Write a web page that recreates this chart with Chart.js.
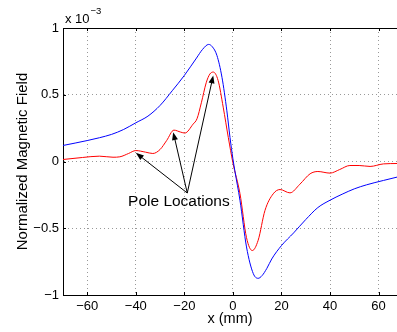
<!DOCTYPE html>
<html>
<head>
<meta charset="utf-8">
<script src="https://cdn.jsdelivr.net/npm/chart.js@4"></script>
<style>
  html, body { margin: 0; padding: 0; background: #fff; }
  canvas { display: block; }
</style>
</head>
<body>
<canvas id="fieldChart" width="397" height="332"></canvas>
<script>
// --- DATA (field in units of 1e-3) ----
const blueX = [-70, -65, -60, -55, -50, -45, -40, -35, -30, -25, -20, -15, -12.5, -10, -8.5, -6.6, -4.5, -2.5, -1.2, 0, 0.8, 2.9, 5.6, 8.4, 10.4, 12, 14, 16, 20, 25, 30, 35, 40, 45, 50, 55, 62, 67.6];
const blueY = [0.12, 0.138, 0.157, 0.178, 0.203, 0.24, 0.29, 0.34, 0.42, 0.53, 0.645, 0.775, 0.84, 0.877, 0.86, 0.795, 0.63, 0.38, 0.18, 0.02, -0.07, -0.29, -0.64, -0.84, -0.875, -0.855, -0.8, -0.73, -0.63, -0.535, -0.435, -0.345, -0.29, -0.245, -0.205, -0.175, -0.142, -0.117];

const redX = [-70, -62, -55, -49.4, -46.6, -43, -40, -36, -33, -30, -27.3, -24.3, -21.5, -19.8, -16.4, -14.8, -13, -11, -9.5, -8.1, -6.1, -4, -1.9, 0, 2.9, 5.6, 8, 10.4, 13.2, 16.6, 19.4, 23.5, 27.6, 31.8, 35, 40, 44, 48.2, 52, 56.5, 62, 67.6];
const redY = [0.015, 0.03, 0.04, 0.032, 0.035, 0.06, 0.082, 0.07, 0.06, 0.09, 0.157, 0.235, 0.22, 0.213, 0.28, 0.32, 0.44, 0.59, 0.655, 0.67, 0.607, 0.407, 0.18, -0.01, -0.24, -0.57, -0.667, -0.59, -0.367, -0.242, -0.21, -0.235, -0.17, -0.092, -0.075, -0.087, -0.06, -0.03, -0.03, -0.037, -0.018, -0.015];

const xTicks = [-60, -40, -20, 0, 20, 40, 60];
const yTicks = [-1, -0.5, 0, 0.5, 1];

// pole-location arrows: common tail, three heads (data coords)
const arrowTail = { x: -18.8, y: -0.236 };
const arrowHeadsX = [-40, -24.6, -8.1];
const arrowHeadsY = [0.065, 0.22, 0.645];
const poleLabel = { text: 'Pole Locations', x: -43.2, y: -0.33 };

const FONT = '"Liberation Sans", Arial, Helvetica, sans-serif';

function fmt(v) {
  return v < 0 ? '\u2212' + Math.abs(v) : String(v);
}

// --- PLUGIN: frame, inward ticks, annotation ----
const decorPlugin = {
  id: 'decor',
  afterDraw(chart) {
    const { ctx, chartArea: a, scales: { x, y } } = chart;
    ctx.save();
    ctx.strokeStyle = '#000';
    ctx.lineWidth = 1;

    // top border
    ctx.beginPath();
    ctx.moveTo(a.left, a.top + 0.5);
    ctx.lineTo(a.right, a.top + 0.5);
    ctx.stroke();

    // inward ticks
    const tl = 3;
    ctx.beginPath();
    xTicks.forEach(v => {
      const px = Math.round(x.getPixelForValue(v)) + 0.5;
      ctx.moveTo(px, a.bottom); ctx.lineTo(px, a.bottom - tl);
      ctx.moveTo(px, a.top); ctx.lineTo(px, a.top + tl);
    });
    yTicks.forEach(v => {
      const py = Math.round(y.getPixelForValue(v)) + 0.5;
      ctx.moveTo(a.left, py); ctx.lineTo(a.left + tl, py);
    });
    ctx.stroke();

    // arrows
    const tx = x.getPixelForValue(arrowTail.x);
    const ty = y.getPixelForValue(arrowTail.y);
    ctx.fillStyle = '#000';
    arrowHeadsX.forEach((hxv, i) => {
      const hx = x.getPixelForValue(hxv);
      const hy = y.getPixelForValue(arrowHeadsY[i]);
      const ang = Math.atan2(hy - ty, hx - tx);
      const len = 8, hw = 3;
      ctx.beginPath();
      ctx.moveTo(tx, ty);
      ctx.lineTo(hx - Math.cos(ang) * len * 0.8, hy - Math.sin(ang) * len * 0.8);
      ctx.stroke();
      ctx.beginPath();
      ctx.moveTo(hx, hy);
      ctx.lineTo(hx - Math.cos(ang) * len - Math.sin(ang) * hw, hy - Math.sin(ang) * len + Math.cos(ang) * hw);
      ctx.lineTo(hx - Math.cos(ang) * len + Math.sin(ang) * hw, hy - Math.sin(ang) * len - Math.cos(ang) * hw);
      ctx.closePath();
      ctx.fill();
    });

    // label
    ctx.font = '15.5px ' + FONT;
    ctx.textBaseline = 'alphabetic';
    ctx.textAlign = 'left';
    ctx.fillText(poleLabel.text, x.getPixelForValue(poleLabel.x), y.getPixelForValue(poleLabel.y));

    // exponent label
    ctx.font = '13px ' + FONT;
    ctx.fillText('x 10', a.left + 2, a.top - 5);
    const w = ctx.measureText('x 10').width;
    ctx.font = '9.5px ' + FONT;
    ctx.fillText('\u22123', a.left + 3 + w, a.top - 14);
    ctx.restore();
  }
};

// --- CHART ----
const ctx = document.getElementById('fieldChart').getContext('2d');
const fieldChart = new Chart(ctx, {
  type: 'scatter',
  data: {
    datasets: [
      {
        label: 'blue',
        data: blueX.map((v, i) => ({ x: v, y: blueY[i] })),
        showLine: true,
        borderColor: '#0000ff',
        borderWidth: 1,
        pointRadius: 0,
        cubicInterpolationMode: 'monotone'
      },
      {
        label: 'red',
        data: redX.map((v, i) => ({ x: v, y: redY[i] })),
        showLine: true,
        borderColor: '#ff0000',
        borderWidth: 1,
        pointRadius: 0,
        cubicInterpolationMode: 'monotone'
      }
    ]
  },
  options: {
    responsive: false,
    animation: false,
    layout: { padding: { left: 0, right: 0, top: 28, bottom: 0 } },
    plugins: {
      legend: { display: false },
      tooltip: { enabled: false }
    },
    scales: {
      x: {
        type: 'linear',
        min: -70,
        max: 67.6,
        afterBuildTicks: s => { s.ticks = xTicks.map(v => ({ value: v })); },
        afterFit: s => { s.height = 37; },
        grid: { color: 'rgba(0,0,0,0.4)', lineWidth: 1, drawTicks: false },
        border: { display: true, color: '#000', width: 1, dash: [1, 3] },
        ticks: {
          padding: 4,
          color: '#000',
          font: { family: FONT, size: 13 },
          maxRotation: 0,
          callback: v => fmt(v)
        },
        title: {
          display: true,
          text: 'x (mm)',
          color: '#000',
          font: { family: FONT, size: 14.5 },
          padding: { top: 0, bottom: 4.5 }
        }
      },
      y: {
        type: 'linear',
        min: -1,
        max: 1,
        afterBuildTicks: s => { s.ticks = yTicks.map(v => ({ value: v })); },
        afterFit: s => { s.width = 63; },
        grid: { color: 'rgba(0,0,0,0.4)', lineWidth: 1, drawTicks: false },
        border: { display: true, color: '#000', width: 1, dash: [1, 3] },
        ticks: {
          padding: 4,
          color: '#000',
          font: { family: FONT, size: 13 },
          callback: v => fmt(v)
        },
        title: {
          display: true,
          text: 'Normalized Magnetic Field',
          color: '#000',
          font: { family: FONT, size: 15 },
          padding: { top: 13.5, bottom: 0 }
        }
      }
    }
  },
  plugins: [decorPlugin]
});
</script>
</body>
</html>
